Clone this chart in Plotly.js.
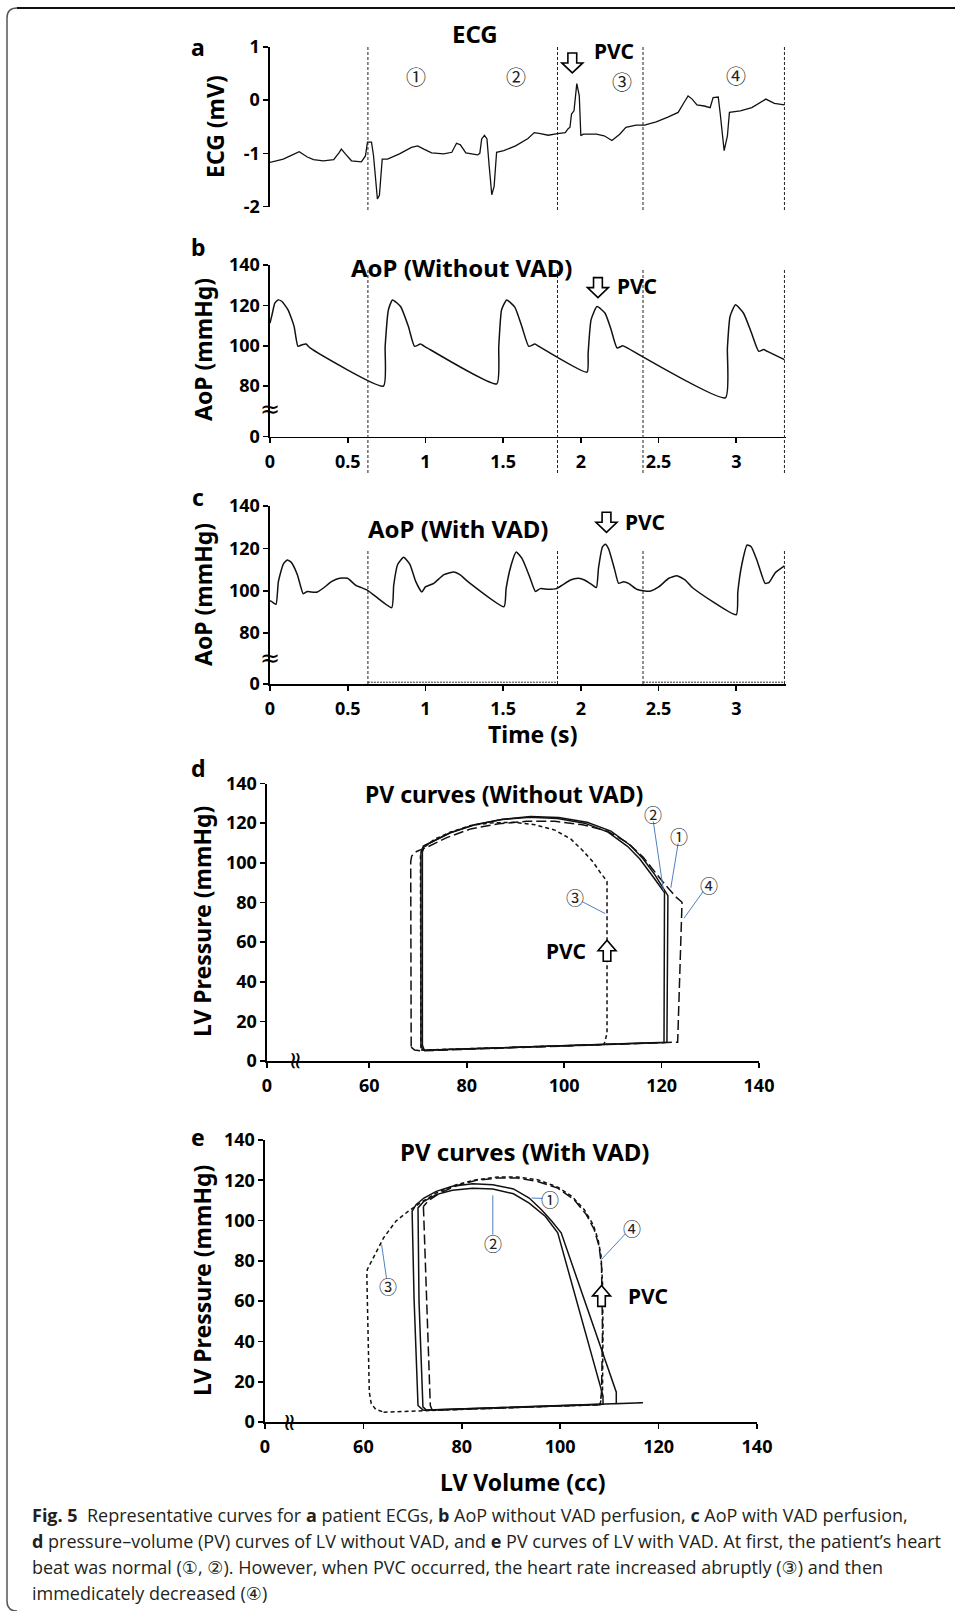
<!DOCTYPE html>
<html>
<head>
<meta charset="utf-8">
<script src="https://cdn.plot.ly/plotly-3.0.1.min.js"></script>
<style>
html,body{margin:0;padding:0;background:#fff;}
#chart{width:955px;height:1611px;}
</style>
</head>
<body>
<div id="chart"></div>
<script>
// ---------------- DATA ----------------
// (a) ECG, time in s, value in mV
const ecgTime = [0,0.085,0.137,0.188,0.24,0.28,0.343,0.41,0.446,0.459,
  0.485,0.524,0.588,0.614,0.627,0.653,0.666,0.691,0.704,0.722,
  0.756,0.833,0.91,0.95,0.99,1.04,1.117,1.17,1.2,1.225,
  1.26,1.336,1.35,1.362,1.38,1.396,1.41,1.427,1.442,1.458,
  1.504,1.58,1.66,1.7,1.74,1.79,1.85,1.9,1.917,1.93,
  1.94,1.956,1.974,1.99,2.0,2.015,2.1,2.15,2.2,2.25,
  2.29,2.355,2.41,2.485,2.56,2.626,2.665,2.69,2.716,2.747,
  2.794,2.832,2.851,2.884,2.897,2.922,2.943,2.956,3.026,3.1,
  3.19,3.245,3.31];
const ecgMv = [-1.17,-1.11,-1.04,-0.97,-1.07,-1.12,-1.14,-1.12,-0.98,-0.92,
  -1.01,-1.14,-1.16,-1.05,-0.79,-0.79,-1.04,-1.86,-1.79,-1.11,
  -1.11,-1.01,-0.89,-0.86,-0.92,-0.99,-1.01,-0.98,-0.81,-0.84,
  -0.99,-1.03,-1.0,-0.73,-0.66,-0.73,-1.23,-1.78,-1.62,-0.98,
  -0.95,-0.86,-0.72,-0.61,-0.63,-0.66,-0.63,-0.61,-0.54,-0.51,
  -0.26,-0.2,0.31,0.08,-0.67,-0.64,-0.64,-0.67,-0.76,-0.64,
  -0.51,-0.47,-0.47,-0.41,-0.32,-0.23,-0.04,0.08,0.02,-0.09,
  -0.11,-0.14,0.05,0.06,-0.26,-0.95,-0.67,-0.23,-0.2,-0.14,
  0.02,-0.06,-0.09];

// (b) AoP without VAD, mmHg
const aopNoVadTime = [0,0.013,0.031,0.052,0.077,0.116,0.155,0.18,0.207,0.232,
  0.258,0.73,0.741,0.762,0.788,0.84,0.89,0.93,0.968,0.994,
  1.459,1.472,1.49,1.523,1.575,1.62,1.665,1.704,1.73,2.04,
  2.047,2.066,2.104,2.156,2.195,2.233,2.27,2.298,2.93,2.943,
  2.96,2.995,3.047,3.098,3.145,3.176,3.2,3.31];
const aopNoVad = [111.2,115.3,121.1,122.7,121.9,117.8,109.6,99.7,100.5,100.8,
  98.9,80.0,99.7,117.8,122.7,119.4,109.6,99.7,100.8,99.7,
  81.1,99.7,117.8,122.7,119.1,109.6,99.7,100.8,99.7,86.9,
  96.4,112.9,119.4,116.1,107.9,98.9,100.0,98.9,74.2,99.0,
  114.5,120.3,116.1,106.3,97.2,98.1,97.2,93.1];

// (c) AoP with VAD, mmHg
const aopVadTime = [0,0.02,0.039,0.054,0.085,0.111,0.137,0.176,0.214,0.24,
  0.266,0.305,0.344,0.395,0.447,0.499,0.55,0.628,0.783,0.796,
  0.822,0.86,0.9,0.938,0.977,1.0,1.054,1.119,1.183,1.222,
  1.274,1.506,1.519,1.553,1.584,1.623,1.674,1.708,1.739,1.79,
  1.842,1.881,1.933,1.985,2.023,2.075,2.1,2.114,2.14,2.157,
  2.178,2.217,2.243,2.276,2.307,2.359,2.411,2.45,2.501,2.566,
  2.618,2.67,2.721,3.0,3.01,3.036,3.07,3.096,3.134,3.186,
  3.212,3.25,3.31];
const aopVad = [95.3,94.4,93.6,104.3,112.5,114.5,113.4,107.6,98.6,99.7,
  99.4,99.4,101.3,104.3,105.9,105.9,102.7,100.2,92.0,102.7,
  112.5,115.8,112.5,104.3,99.4,101.8,103.5,107.6,108.9,107.6,
  104.3,92.5,101.0,112.5,118.3,115.0,105.9,99.7,101.0,100.7,
  101.0,102.7,105.1,105.9,105.1,102.7,101.5,110.9,120.8,121.9,
  119.9,110.1,103.5,104.3,103.5,100.7,99.9,99.9,101.8,105.9,
  107.1,105.1,101.3,88.7,99.4,112.5,121.6,120.8,114.2,103.5,
  104.0,108.4,111.7];

// region boundaries (s)
const boundaryTimes = [0.63, 1.85, 2.40, 3.31];

// (d) PV loops without VAD: volume (cc), pressure (mmHg)
const pvNoVadVol1 = [71.3,121.1,121.3,120.3,118.6,116.2,113.7,109.6,104.7,98.9,93.1,87.4,81.6,76.7,73.4,71.3,70.9,70.9,71.3];
const pvNoVadP1   = [5.4,9.5,83.4,87.4,94,102,108.6,116,120.4,122.8,123.3,122,119.2,115.2,111.4,108.6,105.4,8,5.4];
const pvNoVadVol2 = [71.0,120.5,120.6,119.5,117.8,115.5,113,109,104.2,98.6,93,87.2,81.4,76.5,73.2,71.1,70.6,70.6,71.0];
const pvNoVadP2   = [5.4,9.3,85,88.5,94.5,102,108.3,115.5,120,122.4,123,121.8,119,115,111.2,108.4,105.2,8,5.4];
const pvNoVadVol3 = [70.6,108.2,108.8,108.8,107.5,105.9,103.8,101.4,98.1,94,89.9,84.9,80.8,76.7,73.4,71.3,70.5,70.5,70.6];
const pvNoVadP3   = [5.5,8.3,14,90.7,94.8,100.5,106.2,111.9,116.5,119.2,120.4,120.1,118.8,115.5,111.9,107.8,104.6,7,5.5];
const pvNoVadVol4 = [68.6,69.3,70.5,123.3,124.2,122.9,120.7,118.6,116.2,112.9,108.8,103.8,98.1,92.3,86.6,80.8,75.9,71.8,69.7,68.7,68.5,68.6];
const pvNoVadP4   = [7,5.5,5.1,9.5,80.1,82.9,89,95.6,102.9,110.3,116,119.2,120.9,120.9,119.7,117.1,112.7,107.8,105.7,103.4,100.5,7];

// (e) PV loops with VAD
const pvVadVol1 = [72.2,116.8,111.4,111.4,100.2,98.3,96.2,93.7,90.5,86.3,82.2,78.1,74.8,72.3,70.7,69.9,70.3,71.1,72.2];
const pvVadP1   = [5.8,9.6,9.1,14.8,93.9,99.7,105.4,111.2,115.7,117.8,118.3,117,114.5,111.2,107.9,104.6,61,8.2,5.8];
const pvVadVol2 = [72.8,108.7,108.7,99.5,97,93.7,90.5,86.3,82.2,78.1,74.8,72.3,71.1,71.3,72.1,72.8];
const pvVadP2   = [5.9,8.8,13,93.9,102,108.7,113.3,115.7,116.1,115,112.9,109.6,106.3,60,7.5,5.9];
const pvVadVol3 = [64.1,108.1,108.6,108.7,108.6,108.3,107.7,106.7,104.9,102.4,99.5,95.4,91.3,87.2,83,78.9,74.8,71.5,69.1,66.6,64.1,62.1,60.8,60.7,60.8,61.2,61.6,62.5,64.1];
const pvVadP3   = [4.9,8.6,14.8,44.5,69.2,82.4,90.6,98,105.4,112,116.6,120.3,121.6,121.6,120.3,117.8,113.7,108.7,104.6,99.7,91.4,82.4,75.8,72.5,61,14.8,9.1,6.3,4.9];
const pvVadVol4 = [72.2,72.8,73.6,74,108.1,108.4,108.6,108.4,107.9,106.9,105.3,102.8,99.5,95.4,91.3,87.2,83,78.9,75.6,73.2,72.2];
const pvVadP4   = [107,61,8.2,5.8,8.6,14.8,44.5,77.4,87.3,95.6,103,110.4,116.1,119.4,121.1,121.1,120,117.3,113.7,109.9,107];

// tick labels
const timeTicks = [0,0.5,1,1.5,2,2.5,3];
const timeTickText = ['0','0.5','1','1.5','2','2.5','3'];
const ecgTicks = [-2,-1,0,1];
const ecgTickText = ['-2','-1','0','1'];
const aopTickText = ['0','80','100','120','140'];
const pTicks = [0,20,40,60,80,100,120,140];
const pTickText = ['0','20','40','60','80','100','120','140'];
const volTickText = ['0','60','80','100','120','140'];

const captionLines = [
  '<b>Fig. 5</b>\u00a0\u00a0Representative curves for <b>a</b> patient ECGs, <b>b</b> AoP without VAD perfusion, <b>c</b> AoP with VAD perfusion,',
  '<b>d</b> pressure\u2013volume (PV) curves of LV without VAD, and <b>e</b> PV curves of LV with VAD. At first, the patient\u2019s heart',
  'beat was normal (\u2460, \u2461). However, when PVC occurred, the heart rate increased abruptly (\u2462) and then',
  'immedicately decreased (\u2463)'
];

// ---------------- LAYOUT HELPERS ----------------
const W = 955, H = 1611;
const px = x => x / W;
const py = y => 1 - y / H;
const FONT = 'Noto Sans, DejaVu Sans, sans-serif';
const CIRC = 'Noto Sans CJK KR, DejaVu Sans, sans-serif';
const BLUE = '#4f81bd';

// panel geometry in pixels: [left, right, top, bottom] and ranges
const G = {
  a: {l:270, r:786, t:47,    b:206.5, xr:[0,3.32], yr:[-2,1]},
  b: {l:270, r:786, t:265,   b:436.5, xr:[0,3.32], yr:[55,140]},
  c: {l:270, r:786, t:506,   b:684,   xr:[0,3.32], yr:[56,140]},
  d: {l:267, r:759, t:783.5, b:1061,  xr:[39,140], yr:[0,140]},
  e: {l:265, r:757, t:1140,  b:1422,  xr:[40,140], yr:[0,140]}
};
function sx(g){ return (g.r-g.l)/(g.xr[1]-g.xr[0]); }
function sy(g){ return (g.b-g.t)/(g.yr[1]-g.yr[0]); }

function axis(o) {
  return Object.assign({
    showgrid:false, zeroline:false, showline:true, linecolor:'#000', linewidth:1.6,
    ticks:'outside', ticklen:5, tickwidth:1.6, tickcolor:'#000', tickmode:'array',
    tickfont:{family:FONT, size:18, color:'#000', weight:'bold'},
    fixedrange:true
  }, o);
}

const traces = [];
function line(x, y, xa, ya, dash, width, shape) {
  traces.push({x:x, y:y, xaxis:xa, yaxis:ya, mode:'lines', hoverinfo:'skip', showlegend:false,
    line:{color:'#111', width:width||1.5, dash:dash||'solid', shape:shape||'linear', smoothing:0.5}});
}
line(ecgTime, ecgMv, 'x', 'y', 'solid', 1.3);
line(aopNoVadTime, aopNoVad, 'x2', 'y2', 'solid', 1.5, 'spline');
line(aopVadTime, aopVad, 'x3', 'y3', 'solid', 1.5, 'spline');
line(pvNoVadVol1, pvNoVadP1, 'x4', 'y4', 'solid', 1.5);
line(pvNoVadVol2, pvNoVadP2, 'x4', 'y4', 'solid', 1.5);
line(pvNoVadVol3, pvNoVadP3, 'x4', 'y4', '4px,3px', 1.5);
line(pvNoVadVol4, pvNoVadP4, 'x4', 'y4', '10px,4px', 1.5);
line(pvVadVol1, pvVadP1, 'x5', 'y5', 'solid', 1.5);
line(pvVadVol2, pvVadP2, 'x5', 'y5', 'solid', 1.5);
line(pvVadVol3, pvVadP3, 'x5', 'y5', '4px,3px', 1.5);
line(pvVadVol4, pvVadP4, 'x5', 'y5', '10px,4px', 1.5);

const annotations = [];
const shapes = [];
function txt(text, x, y, xref, yref, size, extra) {
  annotations.push(Object.assign({text:text, x:x, y:y, xref:xref, yref:yref, showarrow:false,
    xanchor:'center', yanchor:'middle', borderpad:0,
    font:{family:FONT, size:size, color:'#000'}}, extra||{}));
}
function ptxt(text, x, y, size, extra) { txt(text, px(x), py(y), 'paper', 'paper', size, extra); }

// hollow block arrow drawn as a path in the panel's data coordinates
function arrow(cx, cy, key, xref, yref, dir, w, h) {
  const g = G[key], kx = sx(g), ky = sy(g);
  const hw = w/2, sw = w*0.21, hl = h*0.5;
  const pts = [[-sw,-hl],[sw,-hl],[sw,0],[hw,0],[0,hl],[-hw,0],[-sw,0]];
  const d = dir === 'down' ? 1 : -1;
  const path = 'M ' + pts.map(function(p){ return (cx + p[0]/kx) + ',' + (cy - d*p[1]/ky); }).join(' L ') + ' Z';
  shapes.push({type:'path', xref:xref, yref:yref, path:path, fillcolor:'#fff', line:{color:'#000', width:1.6}});
}

// panel letters
[['a',47],['b',247],['c',497],['d',768],['e',1137]].forEach(function(p){
  ptxt('<b>'+p[0]+'</b>', 198, p[1], 23);
});
// panel titles
ptxt('<b>ECG</b>', 475, 33, 24);
ptxt('<b>AoP (Without VAD)</b>', 462, 267, 24);
ptxt('<b>AoP (With VAD)</b>', 458, 529, 24);
ptxt('<b>PV curves (Without VAD)</b>', 504, 794, 23);
ptxt('<b>PV curves (With VAD)</b>', 525, 1151, 24);
// axis titles
ptxt('<b>ECG (mV)</b>', 215, 127, 23, {textangle:-90});
ptxt('<b>AoP (mmHg)</b>', 203, 350, 23, {textangle:-90});
ptxt('<b>AoP (mmHg)</b>', 203, 595, 23, {textangle:-90});
ptxt('<b>LV Pressure (mmHg)</b>', 202, 922, 23, {textangle:-90});
ptxt('<b>LV Pressure (mmHg)</b>', 202, 1281, 23, {textangle:-90});
ptxt('<b>Time (s)</b>', 532, 734, 23);
ptxt('<b>LV Volume (cc)</b>', 522, 1482, 23);

// circled region numbers in panel a
[['\u2460',0.937,0.45],['\u2461',1.58,0.44],['\u2462',2.265,0.35],['\u2463',3.0,0.47]].forEach(function(c){
  txt(c[0], c[1], c[2], 'x', 'y', 20, {font:{family:CIRC, size:20, color:'#222'}});
});
// PVC markers
arrow(1.945, 0.70, 'a', 'x', 'y', 'down', 21, 20);
txt('<b>PVC</b>', 2.215, 0.92, 'x', 'y', 21);
arrow(2.11, 128.8, 'b', 'x2', 'y2', 'down', 21, 20);
txt('<b>PVC</b>', 2.36, 129.5, 'x2', 'y2', 21);
arrow(2.165, 132.3, 'c', 'x3', 'y3', 'down', 21, 20);
txt('<b>PVC</b>', 2.41, 132.3, 'x3', 'y3', 21);
txt('<b>PVC</b>', 100.3, 55.3, 'x4', 'y4', 21);
arrow(108.8, 55.6, 'd', 'x4', 'y4', 'up', 18, 21);
txt('<b>PVC</b>', 117.8, 62.6, 'x5', 'y5', 21);
arrow(108.4, 62.6, 'e', 'x5', 'y5', 'up', 18, 21);
// axis breaks
const ARW = 'DejaVu Sans, sans-serif';
txt('\u2248', 0, 68.6, 'x2', 'y2', 24, {font:{family:ARW, size:24, color:'#000'}});
txt('\u2248', 0, 68.5, 'x3', 'y3', 24, {font:{family:ARW, size:24, color:'#000'}});
txt('\u2248', 45, 0, 'x4', 'y4', 24, {textangle:90, font:{family:ARW, size:24, color:'#000'}});
txt('\u2248', 45, 0, 'x5', 'y5', 24, {textangle:90, font:{family:ARW, size:24, color:'#000'}});

// PV loop labels with blue leader lines
function lead(x0,y0,x1,y1,xr,yr){ shapes.push({type:'line', xref:xr, yref:yr, x0:x0, y0:y0, x1:x1, y1:y1, line:{color:BLUE, width:1}}); }
[['\u2461',118.2,124.5],['\u2460',123.6,113.5],['\u2463',129.7,88.8],['\u2462',102.2,82.6]].forEach(function(c){
  txt(c[0], c[1], c[2], 'x4', 'y4', 18, {font:{family:CIRC, size:18, color:'#222'}});
});
lead(118.3,120.8,120.4,85.8,'x4','y4');
lead(123.4,109.8,121.9,87.4,'x4','y4');
lead(128.5,85.4,124.6,72,'x4','y4');
lead(103.7,80.4,108.4,74.4,'x4','y4');
[['\u2460',98,110.9],['\u2461',86.3,89],['\u2462',64.9,67.5],['\u2463',114.5,96.4]].forEach(function(c){
  txt(c[0], c[1], c[2], 'x5', 'y5', 18, {font:{family:CIRC, size:18, color:'#222'}});
});
lead(96.4,111,94.2,111.2,'x5','y5');
lead(86.3,93,86.3,112.5,'x5','y5');
lead(64.7,71.3,63.7,88.1,'x5','y5');
lead(113.2,93.3,108.4,80.7,'x5','y5');

// region boundary dashed lines
const dashLine = {color:'#222', width:1, dash:'3px,2px'};
boundaryTimes.forEach(function(t){
  shapes.push({type:'line', xref:'x', yref:'paper', x0:t, x1:t, y0:py(210), y1:py(46), line:dashLine});
  shapes.push({type:'line', xref:'x2', yref:'paper', x0:t, x1:t, y0:py(473), y1:py(269), line:dashLine});
  shapes.push({type:'line', xref:'x3', yref:'paper', x0:t, x1:t, y0:py(684), y1:py(549), line:dashLine});
});
// dotted segments along the time axis of panel c between boundaries
[[0,1],[2,3]].forEach(function(p){
  shapes.push({type:'line', xref:'x3', yref:'paper', x0:boundaryTimes[p[0]], x1:boundaryTimes[p[1]], y0:py(682.2), y1:py(682.2), line:{color:'#333', width:1, dash:'2px,1px'}});
});

// frame
shapes.push({type:'line', xref:'paper', yref:'paper', x0:px(17), x1:1, y0:py(8), y1:py(8), line:{color:'#111', width:2.2}});
shapes.push({type:'path', xref:'paper', yref:'paper',
  path:'M '+px(17)+','+py(8)+' Q '+px(7)+','+py(8)+' '+px(7)+','+py(18)+' L '+px(7)+','+py(1601)+' Q '+px(7)+','+py(1611)+' '+px(17)+','+py(1611),
  line:{color:'#555', width:1.5}});

// caption
const capY = [1515, 1541, 1567, 1593];
captionLines.forEach(function(l, i){
  ptxt(l, 31, capY[i], 18, {xanchor:'left', align:'left', font:{family:'Open Sans, Noto Sans, DejaVu Sans, sans-serif', size:18, color:'#231f20'}});
});

function dom(g){ return {x:[px(g.l), px(g.r)], y:[py(g.b), py(g.t)]}; }
const layout = {
  width:W, height:H, margin:{l:0,r:0,t:0,b:0},
  paper_bgcolor:'#fff', plot_bgcolor:'rgba(0,0,0,0)',
  showlegend:false,
  font:{family:FONT, color:'#000'},
  xaxis: {domain:dom(G.a).x, range:G.a.xr, anchor:'y', visible:false, fixedrange:true},
  yaxis: axis({domain:dom(G.a).y, range:G.a.yr, anchor:'x', tickvals:ecgTicks, ticktext:ecgTickText}),
  xaxis2: axis({domain:dom(G.b).x, range:G.b.xr, anchor:'y2', tickvals:timeTicks, ticktext:timeTickText, ticklabelstandoff:3}),
  yaxis2: axis({domain:dom(G.b).y, range:G.b.yr, anchor:'x2', tickvals:[55,80,100,120,140], ticktext:aopTickText}),
  xaxis3: axis({domain:dom(G.c).x, range:G.c.xr, anchor:'y3', tickvals:timeTicks, ticktext:timeTickText, ticklabelstandoff:3}),
  yaxis3: axis({domain:dom(G.c).y, range:G.c.yr, anchor:'x3', tickvals:[56,80,100,120,140], ticktext:aopTickText}),
  xaxis4: axis({domain:dom(G.d).x, range:G.d.xr, anchor:'y4', tickvals:[39,60,80,100,120,140], ticktext:volTickText, ticklabelstandoff:3}),
  yaxis4: axis({domain:dom(G.d).y, range:G.d.yr, anchor:'x4', tickvals:pTicks, ticktext:pTickText}),
  xaxis5: axis({domain:dom(G.e).x, range:G.e.xr, anchor:'y5', tickvals:[40,60,80,100,120,140], ticktext:volTickText, ticklabelstandoff:3}),
  yaxis5: axis({domain:dom(G.e).y, range:G.e.yr, anchor:'x5', tickvals:pTicks, ticktext:pTickText}),
  annotations: annotations,
  shapes: shapes
};

Plotly.newPlot('chart', traces, layout, {staticPlot:true, displayModeBar:false});
</script>
</body>
</html>
